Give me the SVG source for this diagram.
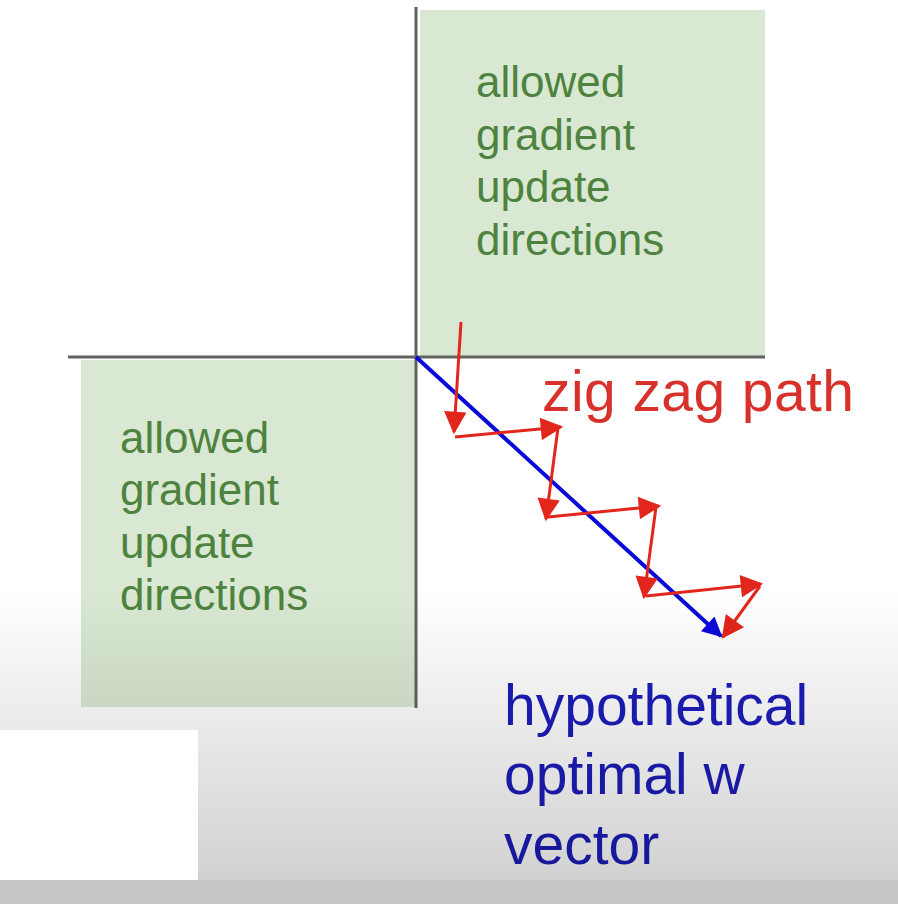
<svg xmlns="http://www.w3.org/2000/svg" width="898" height="904" viewBox="0 0 898 904">
<defs>
<style>
.green{fill:#d9e8d2}
.gtxt{font-family:"Liberation Sans",Arial,sans-serif;font-size:44px;fill:#4d833e}
.axis{stroke:#5f625f;stroke-width:3;fill:none}
.red{stroke:#e3261c;stroke-width:3;fill:none}
.big{font-family:"Liberation Sans",Arial,sans-serif;font-size:57px}
</style>
<marker id="ah" viewBox="0 0 10 10" refX="9" refY="5" markerWidth="9" markerHeight="7.5" markerUnits="strokeWidth" orient="auto">
<path d="M0,0 L10,5 L0,10 z" fill="#e3261c"/>
</marker>
<marker id="bh" viewBox="0 0 10 10" refX="9" refY="5" markerWidth="6" markerHeight="5" markerUnits="strokeWidth" orient="auto">
<path d="M0,0 L10,5 L0,10 z" fill="#0a0ad8"/>
</marker>
<linearGradient id="shade" x1="0" y1="0" x2="0" y2="1">
<stop offset="0" stop-color="#000" stop-opacity="0"/>
<stop offset="1" stop-color="#000" stop-opacity="0.18"/>
</linearGradient>
</defs>
<rect x="0" y="0" width="898" height="904" fill="#fff"/>
<g id="region-top">
<rect class="green" x="420" y="10" width="345" height="347"/>
<text class="gtxt" x="476" y="97">allowed</text>
<text class="gtxt" x="476" y="150">gradient</text>
<text class="gtxt" x="476" y="202">update</text>
<text class="gtxt" x="476" y="255">directions</text>
</g>
<g id="region-bottom">
<rect class="green" x="81" y="360" width="335" height="347"/>
<text class="gtxt" x="120" y="453">allowed</text>
<text class="gtxt" x="120" y="505">gradient</text>
<text class="gtxt" x="120" y="558">update</text>
<text class="gtxt" x="120" y="610">directions</text>
</g>
<g id="axes">
<line class="axis" x1="416" y1="7" x2="416" y2="708"/>
<line class="axis" x1="68" y1="357" x2="765" y2="357"/>
</g>
<g id="connectors">
<line x1="416" y1="357" x2="721" y2="636" stroke="#0a0ad8" stroke-width="4" marker-end="url(#bh)"/>
<line class="red" x1="461" y1="322" x2="454" y2="432" marker-end="url(#ah)"/>
<line class="red" x1="455" y1="437" x2="561" y2="427" marker-end="url(#ah)"/>
<line class="red" x1="558" y1="428" x2="546" y2="519" marker-end="url(#ah)"/>
<line class="red" x1="548" y1="517" x2="659" y2="506" marker-end="url(#ah)"/>
<line class="red" x1="656" y1="507" x2="644" y2="597" marker-end="url(#ah)"/>
<line class="red" x1="646" y1="596" x2="761" y2="584" marker-end="url(#ah)"/>
<line class="red" x1="760" y1="586" x2="723" y2="637" marker-end="url(#ah)"/>
</g>
<g id="label-zigzag">
<text class="big" x="542" y="411" fill="#d8302a" textLength="312">zig zag path</text>
</g>
<g id="label-optimal">
<text class="big" x="504" y="725" fill="#1c1cba">hypothetical</text>
<text class="big" x="504" y="794" fill="#1c1cba">optimal w</text>
<text class="big" x="504" y="864" fill="#1c1cba">vector</text>
</g>
<rect x="0" y="590" width="898" height="290" fill="url(#shade)"/>
<rect x="0" y="880" width="898" height="24" fill="#c7c7c7"/>
<rect x="0" y="730" width="198" height="150" fill="#fff"/>
</svg>
